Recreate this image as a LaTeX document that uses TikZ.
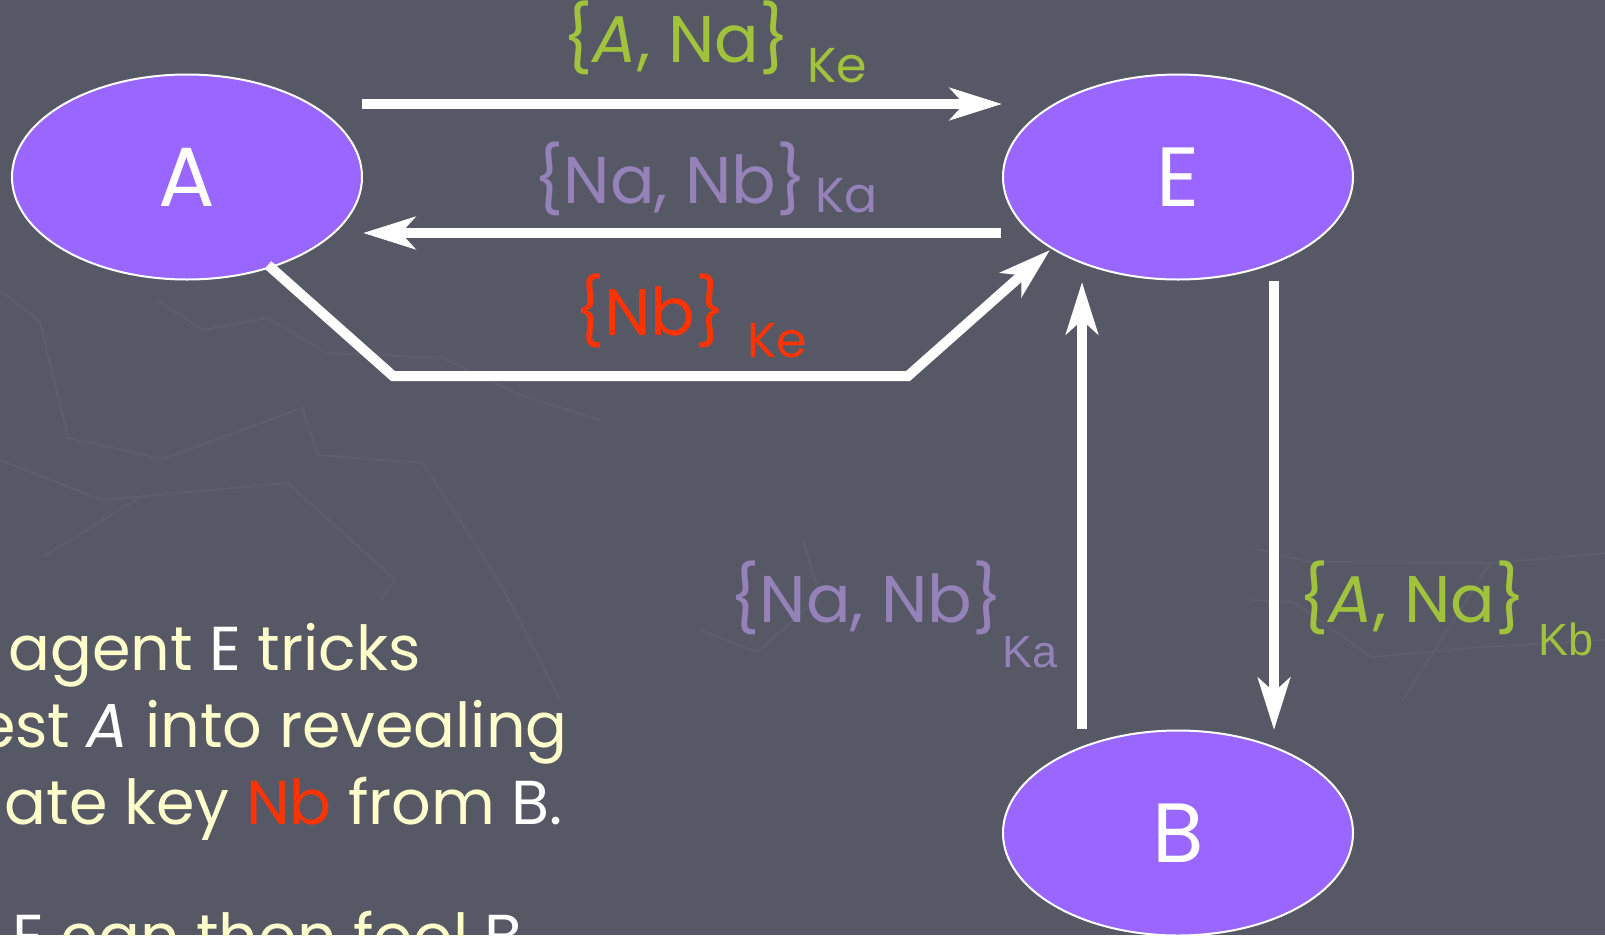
\documentclass[tikz,border=0pt]{standalone}
\usepackage{fontspec}
\setmainfont{Poppins}
\newfontfamily\subsans{Liberation Sans}
\usetikzlibrary{arrows.meta,shapes.geometric}

\definecolor{slate}{HTML}{565866}
\definecolor{mapline}{HTML}{5C5E6D}
\definecolor{agentfill}{HTML}{9966FF}
\definecolor{keygreen}{HTML}{A0C23C}
\definecolor{keyviolet}{HTML}{9482B8}
\definecolor{keyred}{HTML}{FF3300}
\definecolor{cream}{HTML}{FFFFCC}

\tikzset{
  agent/.style={ellipse, draw=white, line width=2pt, fill=agentfill,
    minimum width=350pt, minimum height=205pt, inner sep=0pt,
    text=white, font=\fontsize{84}{84}\selectfont},
  msg/.style={white, line width=10pt,
    -{Stealth[length=52pt,width=32pt,inset=14pt]}},
  lbl/.style={anchor=base, inner sep=0pt, font=\fontsize{66}{66}\selectfont},
  keysub/.style={anchor=base west, inner sep=0pt, font=\fontsize{49}{49}\selectfont},
  keysubsf/.style={anchor=base west, inner sep=0pt, font=\subsans\fontsize{45}{45}\selectfont},
  prose/.style={inner sep=0pt, text=cream, font=\fontsize{62}{62}\selectfont},
  mapstroke/.style={mapline, line width=2pt, line join=round},
}

\begin{document}
\begin{tikzpicture}[x=1pt, y=-1pt]
  \useasboundingbox (0,0) rectangle (1605,935);
  \clip (0,0) rectangle (1605,935);
  \fill[slate] (0,0) rectangle (1605,935);

  % faint map texture in the background
  \draw[mapstroke] (0,290) -- (40,322) -- (68,438) -- (163,459) -- (302,408)
    -- (318,455) -- (423,463) -- (500,583) -- (560,700);
  \draw[mapstroke] (157,300) -- (203,330) -- (267,318) -- (327,353)
    -- (443,358) -- (520,395) -- (600,420);
  \draw[mapstroke] (0,460) -- (102,500) -- (288,483) -- (395,580) -- (380,600);
  \draw[mapstroke] (43,557) -- (140,497);
  \draw[mapstroke] (803,540) -- (820,597) -- (757,652) -- (700,630);
  \draw[mapstroke] (1250,547) -- (1310,562) -- (1497,563) -- (1605,553);
  \draw[mapstroke] (1250,600) -- (1293,602) -- (1372,657) -- (1480,647) -- (1605,640);
  \draw[mapstroke] (1490,563) -- (1403,700);

  % the three agents
  \node[agent] (A) at (187,177) {A};
  \node[agent] (E) at (1178,177) {E};
  \node[agent] (B) at (1178,833) {B};

  % connector end points
  \coordinate (m1s) at (362,104);  \coordinate (m1e) at (1002,104);
  \coordinate (m2s) at (1001,233); \coordinate (m2e) at (363,233);
  \coordinate (m3s) at (268,265);  \coordinate (m3a) at (393,376);
  \coordinate (m3b) at (908,376);  \coordinate (m3e) at (1050,250);
  \coordinate (m4s) at (1082,729); \coordinate (m4e) at (1082,282);
  \coordinate (m5s) at (1274,281); \coordinate (m5e) at (1274,730);

  % messages
  \draw[msg] (m1s) -- (m1e);
  \draw[msg] (m2s) -- (m2e);
  \draw[msg] (m3s) -- (m3a) -- (m3b) -- (m3e);
  \draw[msg] (m4s) -- (m4e);
  \draw[msg] (m5s) -- (m5e);

  % message labels
  \node[lbl, text=keygreen] (l1) at (676,62) {\{\textit{A}, Na\}};
  \node[keysub, text=keygreen] (l1k) at (807,82) {Ke};
  \node[lbl, text=keyviolet] (l2) at (670,203) {\{Na, Nb\}};
  \node[keysub, text=keyviolet] (l2k) at (815,212) {Ka};
  \node[lbl, text=keyred] (l3) at (650,335) {\{Nb\}};
  \node[keysub, text=keyred] (l3k) at (747,357) {Ke};
  \node[lbl, text=keyviolet] (l4) at (866,622) {\{Na, Nb\}};
  \node[keysubsf, text=keyviolet] (l4k) at (1002,667) {Ka};
  \node[lbl, text=keygreen] (l5) at (1412,622) {\{\textit{A}, Na\}};
  \node[keysubsf, text=keygreen] (l5k) at (1538,655) {Kb};

  % explanatory text
  \node[prose, anchor=base west] (p1) at (8,670)
    {agent \textcolor{white}{E} tricks};
  \node[prose, anchor=base east] (p2) at (568,747)
    {est \textcolor{white}{\textit{A}} into revealing};
  \node[prose, anchor=base east] (p3) at (563,824)
    {ate key \textcolor{keyred}{Nb} from \textcolor{white}{B.}};
  \node[prose, anchor=base west] (p4) at (12,958)
    {\textcolor{white}{E} can then fool \textcolor{white}{B}};
\end{tikzpicture}
\end{document}
